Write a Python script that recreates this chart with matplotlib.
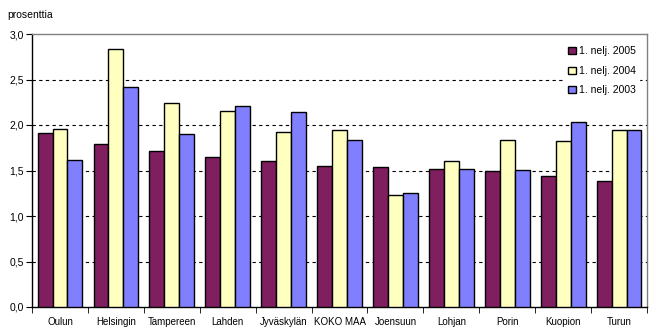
import matplotlib
matplotlib.use("Agg")
import matplotlib.pyplot as plt
import numpy as np

categories = ["Oulun", "Helsingin", "Tampereen", "Lahden", "Jyväskylän", "KOKO MAA",
              "Joensuun", "Lohjan", "Porin", "Kuopion", "Turun"]
series_names = ["1. nelj. 2005", "1. nelj. 2004", "1. nelj. 2003"]
v2005 = [1.91, 1.79, 1.71, 1.645, 1.60, 1.55, 1.54, 1.52, 1.49, 1.44, 1.39]
v2004 = [1.96, 2.84, 2.24, 2.15, 1.92, 1.95, 1.23, 1.60, 1.83, 1.82, 1.94]
v2003 = [1.62, 2.42, 1.90, 2.205, 2.14, 1.83, 1.25, 1.52, 1.51, 2.03, 1.95]
yticks = [0.0, 0.5, 1.0, 1.5, 2.0, 2.5, 3.0]
ytick_labels = ["0,0", "0,5", "1,0", "1,5", "2,0", "2,5", "3,0"]
colors = ["#7F1F5F", "#FFFFC0", "#8080FF"]

plt.rcParams['font.family'] = ['Liberation Sans', 'DejaVu Sans']
fig = plt.figure(figsize=(6.53, 3.34), dpi=100)
ax = fig.add_axes([32/653, 1-307/334, 615/653, 273/334])

x = np.arange(len(categories))
w = 0.8/3
for i, (vals, name, c) in enumerate(zip([v2005, v2004, v2003], series_names, colors)):
    ax.bar(x + (i-1)*w, vals, width=w, color=c, edgecolor="black", linewidth=1.0,
           label=name, zorder=3)

ax.set_xlim(-0.5, len(categories)-0.5)
ax.set_ylim(0, 3.0)
ax.set_yticks(yticks)
ax.set_yticklabels(ytick_labels, fontsize=7.5)
for yv in yticks[1:-1]:
    ax.axhline(yv, color="black", linestyle=(0, (3, 3)), linewidth=0.8, zorder=1)

ax.set_xticks(x)
ax.set_xticklabels(categories, fontsize=7)
ax.tick_params(axis="x", length=0, pad=7)
ax.set_xticks(np.arange(len(categories)+1) - 0.5, minor=True)
ax.tick_params(axis="x", which="minor", length=4, direction="out", color="black")
ax.tick_params(axis="y", length=4, direction="out", color="black", pad=2)

ax.spines["left"].set_color("black")
ax.spines["bottom"].set_color("black")
ax.spines["top"].set_color("#808080")
ax.spines["right"].set_color("#808080")
for s in ax.spines.values():
    s.set_linewidth(1.0)

leg = ax.legend(loc="upper right", bbox_to_anchor=(0.995, 0.985), frameon=True,
                fontsize=7.5, handlelength=0.7, handleheight=0.7, handletextpad=0.3,
                labelspacing=0.9, borderpad=0.3, fancybox=False)
leg.get_frame().set_edgecolor("white")
leg.get_frame().set_facecolor("white")
leg.get_frame().set_alpha(1.0)
leg.set_zorder(5)

fig.text(7/653, 1-15/334, "prosenttia", fontsize=7.5, va="center", ha="left")

fig.savefig("out.png", dpi=100)
